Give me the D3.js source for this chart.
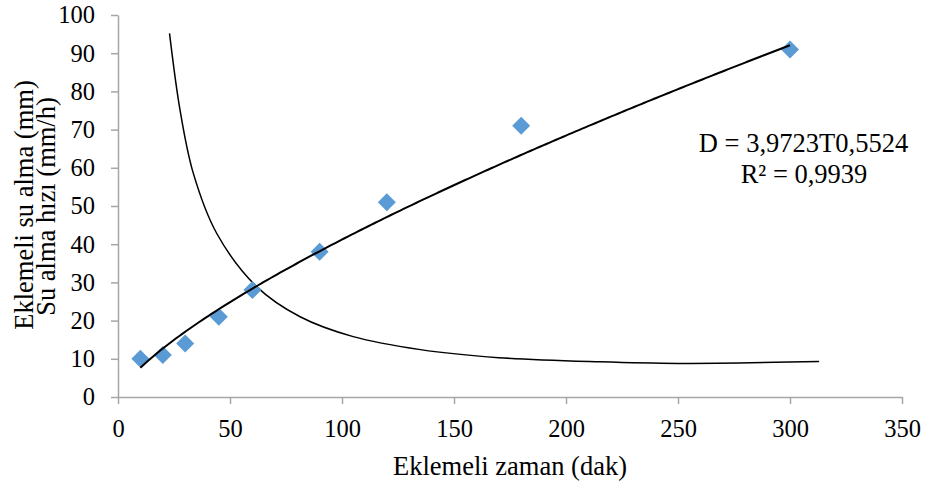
<!DOCTYPE html>
<html>
<head>
<meta charset="utf-8">
<script src="https://cdn.jsdelivr.net/npm/d3@7/dist/d3.min.js"></script>
<style>
  html, body { margin: 0; padding: 0; background: #fff; }
  svg { display: block; font-family: "Liberation Serif", "Times New Roman", serif; }
</style>
</head>
<body>
<svg id="chart" width="927" height="488"></svg>
<script>
// ---- data ----
const times = [10, 20, 30, 45, 60, 90, 120, 180, 300];            // Eklemeli zaman (dak)
const cumulative = [10, 11, 14, 21, 28, 38, 51, 71, 91];          // Eklemeli su alma (mm)
const rateTimes = [23, 27.7, 33.6, 44.1, 61.9, 81.3, 105, 135, 170, 215, 250, 313];
const rateValues = [95.2, 75.1, 58.6, 42.8, 28.9, 21.0, 15.8, 12.4, 10.3, 9.2, 8.8, 9.3]; // Su alma hızı (mm/h)
const xTicks = [0, 50, 100, 150, 200, 250, 300, 350];
const yTicks = [0, 10, 20, 30, 40, 50, 60, 70, 80, 90, 100];
const equationLines = ["D = 3,9723T0,5524", "R\u00B2 = 0,9939"];
const xTitle = "Eklemeli zaman (dak)";
const yTitles = ["Eklemeli su alma (mm)", "Su alma h\u0131z\u0131 (mm/h)"];

// ---- layout ----
const svg = d3.select("#chart");
const x = d3.scaleLinear().domain([0, 350]).range([118, 902]);
const y = d3.scaleLinear().domain([0, 100]).range([397, 15]);
const axisColor = "#a6a6a6";
const serif = "'Liberation Serif', 'Times New Roman', serif";

// axes
const gx = svg.append("g").attr("transform", `translate(0,${y(0)})`)
  .call(d3.axisBottom(x).tickValues(xTicks).tickSize(7).tickSizeOuter(0).tickPadding(16));
const gy = svg.append("g").attr("transform", `translate(${x(0)},0)`)
  .call(d3.axisLeft(y).tickValues(yTicks).tickSize(7).tickSizeOuter(0).tickPadding(16));
[gx, gy].forEach(g => {
  g.attr("font-family", serif).attr("font-size", 24.5);
  g.selectAll("path.domain").attr("stroke", axisColor).attr("stroke-width", 1.5);
  g.selectAll(".tick line").attr("stroke", axisColor).attr("stroke-width", 1.5);
  g.selectAll(".tick text").attr("fill", "#000");
});

// power trendline (least squares in log-log space, like a spreadsheet power trendline)
const lx = times.map(Math.log), ly = cumulative.map(Math.log);
const mx = d3.mean(lx), my = d3.mean(ly);
const b = d3.sum(lx.map((v, i) => (v - mx) * (ly[i] - my))) / d3.sum(lx.map(v => (v - mx) ** 2));
const a = Math.exp(my - b * mx);
const tMin = d3.min(times), tMax = d3.max(times);
const trend = d3.range(0, 201).map(i => {
  const t = tMin + (tMax - tMin) * i / 200;
  return [t, a * Math.pow(t, b)];
});

// infiltration rate curve
const rateData = rateTimes.map((t, i) => [t, rateValues[i]]);
svg.append("path")
  .datum(rateData)
  .attr("fill", "none")
  .attr("stroke", "#000")
  .attr("stroke-width", 1.5)
  .attr("d", d3.line().x(d => x(d[0])).y(d => y(d[1])).curve(d3.curveCatmullRom.alpha(0.5)));

// markers
svg.append("g").selectAll("path")
  .data(times.map((t, i) => [t, cumulative[i]]))
  .join("path")
  .attr("d", d3.symbol(d3.symbolSquare, 162))
  .attr("fill", "#5b9bd5")
  .attr("transform", d => `translate(${x(d[0])},${y(d[1])}) rotate(45)`);

svg.append("path")
  .datum(trend)
  .attr("fill", "none")
  .attr("stroke", "#000")
  .attr("stroke-width", 2)
  .attr("d", d3.line().x(d => x(d[0])).y(d => y(d[1])));

// equation
const t = svg.append("g").attr("font-family", serif).attr("font-size", 26.5).attr("fill", "#000");
t.append("text").attr("x", 803.5).attr("y", 151.5).attr("text-anchor", "middle").text(equationLines[0]);
t.append("text").attr("x", 804).attr("y", 182.5).attr("text-anchor", "middle").text(equationLines[1]);

// titles
t.append("text").attr("x", 510).attr("y", 475).attr("text-anchor", "middle").text(xTitle);
t.append("text").attr("transform", "translate(33,205) rotate(-90)").attr("text-anchor", "middle").text(yTitles[0]);
t.append("text").attr("transform", "translate(55,206.5) rotate(-90)").attr("text-anchor", "middle").text(yTitles[1]);
</script>
</body>
</html>
